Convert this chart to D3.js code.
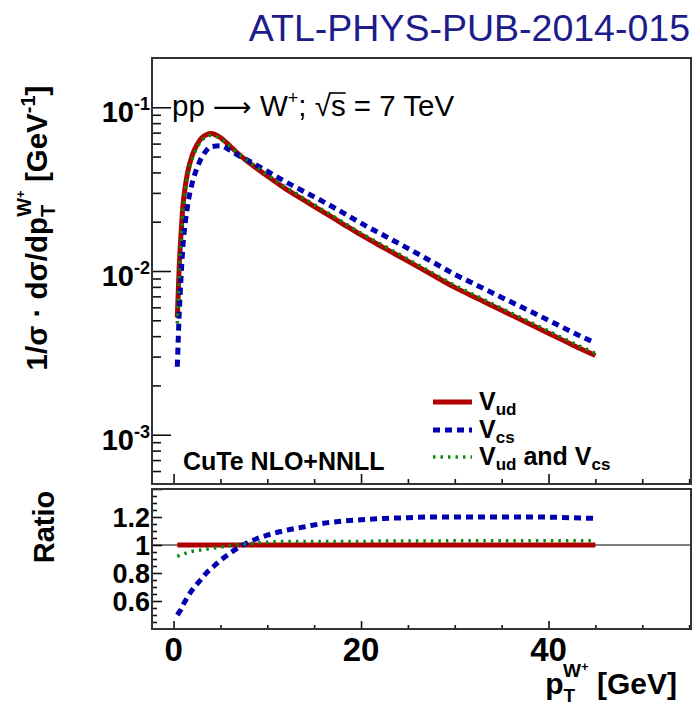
<!DOCTYPE html>
<html>
<head>
<meta charset="utf-8">
<script src="https://cdn.jsdelivr.net/npm/d3@7"></script>
<style>
  body { margin: 0; background: #fff; }
  svg { display: block; }
  text { font-family: "Liberation Sans", Arial, Helvetica, sans-serif; }
</style>
</head>
<body>
<svg id="chart" width="695" height="706"></svg>
<script>
// Transverse-momentum grid of the W+ boson (GeV)
const pT = [0.4, 0.6, 0.8, 1.0, 1.25, 1.5, 2, 2.5, 3, 3.5, 4, 5, 6, 7, 8, 10, 12, 14, 16, 18,
            20, 22.5, 25, 27.5, 30, 32.5, 35, 37.5, 40, 42.5, 45];

// Normalised spectra 1/sigma dsigma/dpT (GeV^-1)
const vud = [0.0052, 0.0105, 0.017, 0.025, 0.033, 0.040, 0.051, 0.059, 0.065, 0.068, 0.0692,
             0.0653, 0.0582, 0.0513, 0.0462, 0.0380, 0.0316, 0.0269, 0.0229, 0.0195,
             0.0166, 0.0138, 0.0115, 0.00955, 0.00794, 0.00676, 0.00575, 0.0049, 0.00417, 0.00355, 0.00305];
const vcs = [0.0026, 0.00546, 0.00918, 0.01425, 0.0198, 0.0252, 0.03468, 0.04248, 0.0494, 0.0544, 0.05744,
             0.05812, 0.05471, 0.05053, 0.04712, 0.04066, 0.03492, 0.0304, 0.02645, 0.02282,
             0.01959, 0.01642, 0.01374, 0.01146, 0.00953, 0.00811, 0.0069, 0.00588, 0.005, 0.00424, 0.00363];
const vudvcs = [0.00478, 0.00971, 0.01581, 0.02338, 0.03102, 0.0378, 0.04871, 0.05664, 0.06273, 0.06596, 0.06747,
                0.06432, 0.05791, 0.05156, 0.04666, 0.03876, 0.03239, 0.02757, 0.02347, 0.01999,
                0.01702, 0.01419, 0.01182, 0.00982, 0.00818, 0.00696, 0.00592, 0.00505, 0.0043, 0.00366, 0.00314];

// Axis ticks and labels
const xMajorTicks = [0, 20, 40];
const xMinorTicks = [5, 10, 15, 25, 30, 35, 45, 50, 55];
const yMajorTicks = [1e-3, 1e-2, 1e-1];
const yMajorExp = ["-3", "-2", "-1"];
const ratioMajorTicks = [0.6, 0.8, 1.0, 1.2, 1.4];
const ratioLabels = ["0.6", "0.8", "1", "1.2"];

const seriesNames = ["V_ud", "V_cs", "V_ud and V_cs"];
const colors = { vud: "#b00000", vcs: "#0000b0", both: "#0a8a0a" };

const svg = d3.select("#chart");
const FONT_BOLD = 700;

// Panel geometry
const left = 152, right = 691;
const top1 = 58, bot1 = 484;
const top2 = 489, bot2 = 629;

const x = d3.scaleLinear().domain([-2.3, 55.2]).range([left, right]);
const y = d3.scaleLog().domain([5e-4, 0.2]).range([bot1, top1]);
const r = d3.scaleLinear().domain([0.4, 1.4]).range([bot2, top2]);

// Clip regions
const defs = svg.append("defs");
defs.append("clipPath").attr("id", "clipTop").append("rect")
  .attr("x", left).attr("y", top1).attr("width", right - left).attr("height", bot1 - top1);
defs.append("clipPath").attr("id", "clipBot").append("rect")
  .attr("x", left).attr("y", top2).attr("width", right - left).attr("height", bot2 - top2);

// Header
svg.append("text").attr("x", 690).attr("y", 41).attr("text-anchor", "end")
  .attr("font-size", 37.5).attr("fill", "#1c1c8c").text("ATL-PHYS-PUB-2014-015");

// ---------- top panel ----------
const gTop = svg.append("g");

// Log minor ticks: 2..9 in each decade inside the domain
const yMinor = [];
[1e-4, 1e-3, 1e-2, 1e-1].forEach(d => {
  for (let k = 2; k <= 9; k++) {
    const v = k * d;
    if (v > 5e-4 && v < 0.2) yMinor.push(v);
  }
});

gTop.append("g").attr("transform", `translate(${left},0)`)
  .call(d3.axisLeft(y).tickValues(yMajorTicks).tickSize(-19).tickFormat(""))
  .call(g => g.select(".domain").remove());
gTop.append("g").attr("transform", `translate(${left},0)`)
  .call(d3.axisLeft(y).tickValues(yMinor).tickSize(-9).tickFormat(""))
  .call(g => g.select(".domain").remove());
gTop.append("g").attr("transform", `translate(0,${bot1})`)
  .call(d3.axisBottom(x).tickValues(xMajorTicks).tickSize(-10).tickFormat(""))
  .call(g => g.select(".domain").remove());
gTop.append("g").attr("transform", `translate(0,${bot1})`)
  .call(d3.axisBottom(x).tickValues(xMinorTicks).tickSize(-5).tickFormat(""))
  .call(g => g.select(".domain").remove());
svg.selectAll(".tick line").attr("stroke", "#111").attr("stroke-width", 1.6);

// y tick labels 10^n
yMajorTicks.forEach((v, i) => {
  const t = gTop.append("text").attr("x", 150).attr("y", y(v) + 15)
    .attr("text-anchor", "end").attr("font-weight", FONT_BOLD).attr("font-size", 29);
  t.append("tspan").text("10");
  t.append("tspan").attr("font-size", 18).attr("dy", -12).text(yMajorExp[i]);
});

// y axis title
const yt = svg.append("text").attr("transform", "translate(47,228) rotate(-90)")
  .attr("text-anchor", "middle").attr("font-weight", FONT_BOLD).attr("font-size", 29.5);
yt.append("tspan").text("1/σ · dσ/dp");
yt.append("tspan").attr("font-size", 20).attr("dy", 8).text("T");
yt.append("tspan").attr("font-size", 20).attr("dx", -12).attr("dy", -24).text("W");
yt.append("tspan").attr("font-size", 13).attr("dy", -6).text("+");
yt.append("tspan").attr("font-size", 29.5).attr("dy", 22).text(" [GeV");
yt.append("tspan").attr("font-size", 20).attr("dy", -12).text("-1");
yt.append("tspan").attr("font-size", 29.5).attr("dy", 12).text("]");

// Curves
const line = d3.line().x(d => x(d[0])).y(d => y(d[1])).curve(d3.curveMonotoneX);
const curves = gTop.append("g").attr("clip-path", "url(#clipTop)");
curves.append("path").datum(pT.map((p, i) => [p, vud[i]])).attr("d", line)
  .attr("fill", "none").attr("stroke", colors.vud).attr("stroke-width", 5);
curves.append("path").datum(pT.map((p, i) => [p, vcs[i]])).attr("d", line)
  .attr("fill", "none").attr("stroke", colors.vcs).attr("stroke-width", 5)
  .attr("stroke-dasharray", "7,5");
curves.append("path").datum(pT.map((p, i) => [p, vudvcs[i]])).attr("d", line)
  .attr("fill", "none").attr("stroke", colors.both).attr("stroke-width", 3.5)
  .attr("stroke-dasharray", "2.5,5");

// Process label
const proc = gTop.append("text").attr("x", 172).attr("y", 116).attr("font-size", 29.5).attr("fill", "#000");
proc.append("tspan").text("pp ");
proc.append("tspan").attr("font-family", "DejaVu Sans").attr("font-size", 27).text("⟶");
proc.append("tspan").text(" W");
proc.append("tspan").attr("font-size", 18).attr("dy", -12).text("+");
proc.append("tspan").attr("dy", 12).text("; √s = 7 TeV");
{
  const n = proc.node();
  const txt = n.textContent;
  const iRoot = txt.indexOf("√"), iS = iRoot + 1;
  const eR = n.getExtentOfChar(iRoot), eS = n.getExtentOfChar(iS);
  const yBar = eR.y + 4;
  gTop.append("line").attr("x1", eR.x + eR.width - 1.5).attr("x2", eS.x + eS.width)
    .attr("y1", yBar).attr("y2", yBar).attr("stroke", "#000").attr("stroke-width", 1.6);
}

gTop.append("text").attr("x", 183).attr("y", 470).attr("font-size", 25)
  .attr("font-weight", FONT_BOLD).text("CuTe NLO+NNLL");

// Legend
const legend = gTop.append("g");
const legRows = [
  { y: 402, color: colors.vud, dash: null, w: 5 },
  { y: 430, color: colors.vcs, dash: "7,5", w: 5 },
  { y: 457, color: colors.both, dash: "2.5,5", w: 3.5 }
];
legRows.forEach((row, i) => {
  legend.append("line").attr("x1", 433).attr("x2", 472).attr("y1", row.y).attr("y2", row.y)
    .attr("stroke", row.color).attr("stroke-width", row.w).attr("stroke-dasharray", row.dash);
  const t = legend.append("text").attr("x", 479).attr("y", row.y + 8)
    .attr("font-size", 25).attr("font-weight", FONT_BOLD);
  const parts = seriesNames[i].split(" and ");
  parts.forEach((p, j) => {
    const [base, sub] = p.split("_");
    if (j > 0) t.append("tspan").attr("font-size", 25).attr("dy", -5).text(" and ");
    t.append("tspan").attr("font-size", 25).attr("dy", j > 0 ? 0 : null).text(base);
    t.append("tspan").attr("font-size", 17).attr("dy", 5).text(sub);
  });
});

// ---------- ratio panel ----------
const gBot = svg.append("g");
const ratioMinor = d3.range(0.45, 1.4, 0.05).filter(v => Math.abs((v * 100) % 20) > 1e-6 && Math.abs(((v * 100) % 20) - 20) > 1e-6);

gBot.append("g").attr("transform", `translate(${left},0)`)
  .call(d3.axisLeft(r).tickValues(ratioMajorTicks).tickSize(-10).tickFormat(""))
  .call(g => g.select(".domain").remove());
gBot.append("g").attr("transform", `translate(${left},0)`)
  .call(d3.axisLeft(r).tickValues(ratioMinor).tickSize(-5).tickFormat(""))
  .call(g => g.select(".domain").remove());
gBot.append("g").attr("transform", `translate(0,${bot2})`)
  .call(d3.axisBottom(x).tickValues(xMajorTicks).tickSize(-8).tickFormat(""))
  .call(g => g.select(".domain").remove());
gBot.append("g").attr("transform", `translate(0,${bot2})`)
  .call(d3.axisBottom(x).tickValues(xMinorTicks).tickSize(-4).tickFormat(""))
  .call(g => g.select(".domain").remove());
gBot.selectAll(".tick line").attr("stroke", "#111").attr("stroke-width", 1.6);

ratioLabels.forEach(lbl => {
  gBot.append("text").attr("x", 150).attr("y", r(+lbl) + 10).attr("text-anchor", "end")
    .attr("font-size", 27).attr("font-weight", FONT_BOLD).text(lbl);
});

svg.append("text").attr("transform", "translate(54,527) rotate(-90)")
  .attr("text-anchor", "middle").attr("font-size", 29).attr("font-weight", FONT_BOLD).text("Ratio");

// Unity reference line
gBot.append("line").attr("x1", left).attr("x2", right).attr("y1", r(1)).attr("y2", r(1))
  .attr("stroke", "#000").attr("stroke-width", 1.2);

const rline = d3.line().x(d => x(d[0])).y(d => r(d[1])).curve(d3.curveMonotoneX);
const rc = gBot.append("g").attr("clip-path", "url(#clipBot)");
rc.append("path").datum(pT.map((p, i) => [p, vud[i] / vud[i]])).attr("d", rline)
  .attr("fill", "none").attr("stroke", colors.vud).attr("stroke-width", 5);
rc.append("path").datum(pT.map((p, i) => [p, vcs[i] / vud[i]])).attr("d", rline)
  .attr("fill", "none").attr("stroke", colors.vcs).attr("stroke-width", 5)
  .attr("stroke-dasharray", "7,5");
rc.append("path").datum(pT.map((p, i) => [p, vudvcs[i] / vud[i]])).attr("d", rline)
  .attr("fill", "none").attr("stroke", colors.both).attr("stroke-width", 3.5)
  .attr("stroke-dasharray", "2.5,5");

// x tick labels
xMajorTicks.forEach(v => {
  svg.append("text").attr("x", x(v)).attr("y", 661).attr("text-anchor", "middle")
    .attr("font-size", 33).attr("font-weight", FONT_BOLD).text(v);
});

// x axis title
const xt = svg.append("text").attr("x", 677).attr("y", 694).attr("text-anchor", "end")
  .attr("font-size", 30).attr("font-weight", FONT_BOLD);
xt.append("tspan").text("p");
xt.append("tspan").attr("font-size", 19).attr("dy", 8).text("T");
xt.append("tspan").attr("font-size", 19).attr("dx", -12).attr("dy", -25).text("W");
xt.append("tspan").attr("font-size", 13).attr("dy", -6).text("+");
xt.append("tspan").attr("font-size", 30).attr("dy", 23).text(" [GeV]");

// Frames
[[top1, bot1], [top2, bot2]].forEach(([t, b]) => {
  svg.append("rect").attr("x", left).attr("y", t).attr("width", right - left).attr("height", b - t)
    .attr("fill", "none").attr("stroke", "#333").attr("stroke-width", 2);
});
</script>
</body>
</html>
